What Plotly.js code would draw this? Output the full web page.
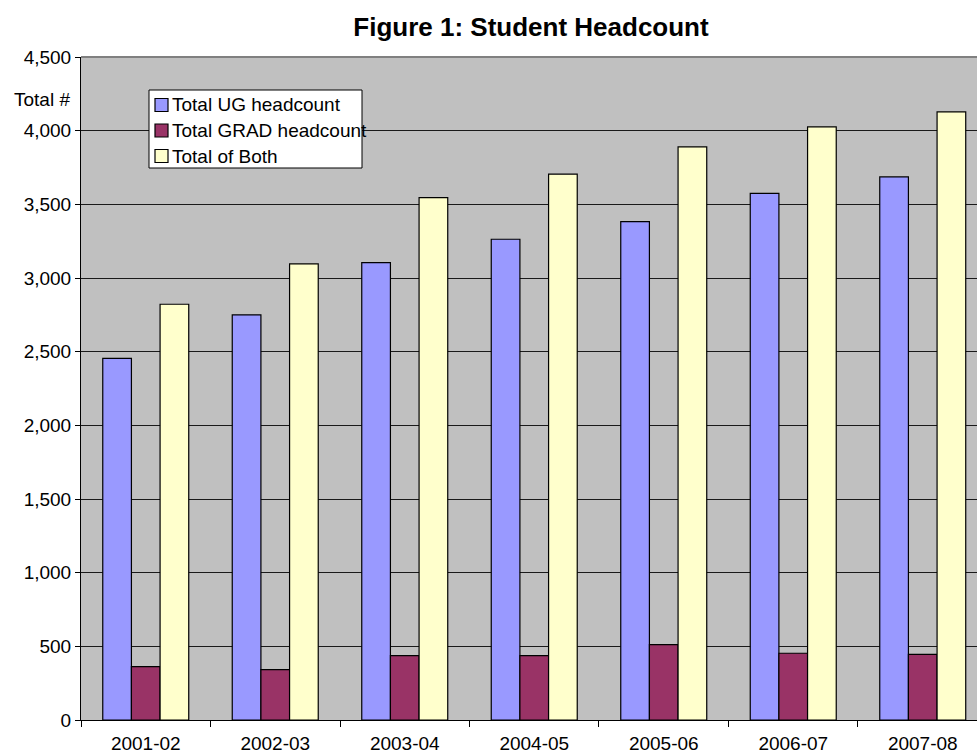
<!DOCTYPE html>
<html>
<head>
<meta charset="utf-8">
<script src="https://cdn.plot.ly/plotly-3.0.1.min.js"></script>
<style>html,body{margin:0;padding:0;background:#fff;}#chart{width:977px;height:755px;}</style>
</head>
<body>
<div id="chart"></div>
<script>
const years = ["2001-02","2002-03","2003-04","2004-05","2005-06","2006-07","2007-08"];
const seriesNames = ["Total UG headcount", "Total GRAD headcount", "Total of Both"];
const seriesColors = ["#9999FF", "#993366", "#FFFFCC"];
const ugHeadcount = [2455, 2750, 3105, 3263, 3383, 3575, 3686];
const gradHeadcount = [362, 342, 437, 437, 511, 453, 446];
const totalBoth = [2822, 3096, 3546, 3705, 3890, 4026, 4128];
const yTickVals = [0,500,1000,1500,2000,2500,3000,3500,4000,4500];
const yTickText = ["0","500","1,000","1,500","2,000","2,500","3,000","3,500","4,000","4,500"];

const W = 977, H = 755, ML = 81, MR = 0, MT = 57, MB = 35;
const PW = W - ML - MR, PH = H - MT - MB;
const px2x = p => (p - ML) / PW;
const px2y = p => (H - MB - p) / PH;

const font = {family: "Liberation Sans, Arial, sans-serif", size: 19, color: "#000"};
const outline = {color: "#000", width: 1.2};
const seriesValues = [ugHeadcount, gradHeadcount, totalBoth];

const traces = seriesValues.map((vals, i) => ({
  type: "bar", name: seriesNames[i], x: years, y: vals,
  marker: {color: seriesColors[i], line: outline}
}));

// custom legend (Excel style)
const shapes = [
  {type: "line", xref: "paper", yref: "paper", x0: 0, x1: 1, y0: 1, y1: 1,
   line: {color: "#808080", width: 2}},
  {type: "rect", xref: "paper", yref: "paper", x0: px2x(149), x1: px2x(362),
   y0: px2y(168), y1: px2y(90), fillcolor: "#fff", line: {color: "#000", width: 1}, layer: "above"}
];
const annotations = [
  {text: "Total #", xref: "paper", yref: "paper", x: px2x(12), y: px2y(99),
   xanchor: "left", yanchor: "middle", showarrow: false, font: font}
];
const rowCenters = [105, 130.5, 156];
seriesNames.forEach((name, i) => {
  const c = rowCenters[i];
  shapes.push({type: "rect", xref: "paper", yref: "paper", x0: px2x(155), x1: px2x(168),
    y0: px2y(c + 6.5), y1: px2y(c - 6.5), fillcolor: seriesColors[i],
    line: {color: "#000", width: 1.2}, layer: "above"});
  annotations.push({text: name, xref: "paper", yref: "paper", x: px2x(170), y: px2y(c),
    xanchor: "left", yanchor: "middle", showarrow: false, font: font});
});

const layout = {
  width: W, height: H,
  margin: {l: ML, r: MR, t: MT, b: MB, pad: 0},
  paper_bgcolor: "#fff",
  plot_bgcolor: "#C0C0C0",
  font: font,
  title: {text: "<b>Figure 1: Student Headcount</b>", font: {family: font.family, size: 26, color: "#000"},
          x: 0.5435, xanchor: "center", y: 1 - 27 / H, yanchor: "middle"},
  barmode: "group",
  bargap: 0.336,
  bargroupgap: 0,
  showlegend: false,
  xaxis: {type: "category", range: [-0.5, 6.419], tickson: "boundaries",
          ticks: "outside", ticklen: 6, tickcolor: "#000", tickwidth: 1,
          showline: true, linecolor: "#000", linewidth: 1,
          showgrid: false, ticklabelstandoff: 6, tickfont: font, fixedrange: true},
  yaxis: {range: [0, 4500], tickvals: yTickVals, ticktext: yTickText,
          ticks: "outside", ticklen: 5, tickcolor: "#000", tickwidth: 1,
          showline: true, linecolor: "#000", linewidth: 1,
          showgrid: true, gridcolor: "#1a1a1a", gridwidth: 1, zeroline: false,
          tickfont: font, fixedrange: true},
  shapes: shapes,
  annotations: annotations
};

Plotly.newPlot("chart", traces, layout, {displayModeBar: false, staticPlot: true});
</script>
</body>
</html>
